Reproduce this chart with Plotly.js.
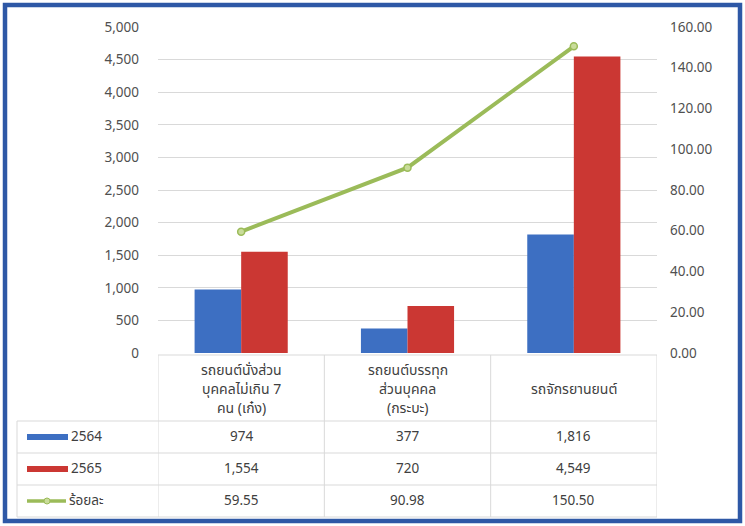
<!DOCTYPE html>
<html>
<head>
<meta charset="utf-8">
<script src="https://cdn.plot.ly/plotly-3.0.1.min.js"></script>
<style>html,body{margin:0;padding:0;background:#fff;}#chart{width:745px;height:526px;}</style>
</head>
<body>
<div id="chart"></div>
<script>
// ---- data ----
var categories = ['รถยนต์นั่งส่วนบุคคลไม่เกิน 7 คน (เก๋ง)', 'รถยนต์บรรทุกส่วนบุคคล (กระบะ)', 'รถจักรยานยนต์'];
var headerLabels = [['รถยนต์นั่งส่วน', 'บุคคลไม่เกิน 7', 'คน (เก๋ง)'], ['รถยนต์บรรทุก', 'ส่วนบุคคล', '(กระบะ)'], ['รถจักรยานยนต์']];
var seriesNames = ['2564', '2565', 'ร้อยละ'];
var values2564 = [974, 377, 1816];
var values2565 = [1554, 720, 4549];
var percentChange = [59.55, 90.98, 150.50];

// ---- layout helpers (pixel -> paper) ----
var W = 745, H = 526, L = 158, R = 88, T = 27, B = 173;
var pw = W - L - R, ph = H - T - B;
function px(x) { return (x - L) / pw; }
function py(y) { return (H - B - y) / ph; }

var FONT = "Tahoma, 'Noto Sans Thai', 'Leelawadee UI', 'DejaVu Sans', sans-serif";
var TXT = '#404040';
var BLUE = '#3D6FC2', RED = '#CB3733', GREEN = '#9BBB59';
var GRID = '#D9D9D9';

var traces = [
  { type: 'bar', name: seriesNames[0], x: categories, y: values2564, marker: { color: BLUE }, yaxis: 'y' },
  { type: 'bar', name: seriesNames[1], x: categories, y: values2565, marker: { color: RED }, yaxis: 'y' },
  { type: 'scatter', mode: 'lines+markers', name: seriesNames[2], x: categories, y: percentChange, yaxis: 'y2',
    line: { color: GREEN, width: 4 }, marker: { size: 7, color: '#C9DC9A', line: { color: GREEN, width: 1.5 } } }
];

var shapes = [];
var annotations = [];

// table rows (pixel y)
var headerTop = 355, headerBottom = 421, rowH = 32;
var rowsY = [headerBottom, headerBottom + rowH, headerBottom + 2 * rowH, headerBottom + 3 * rowH];
var leftX = 17;

function hline(x0, x1, y, xref) {
  shapes.push({ type: 'line', xref: xref || 'paper', yref: 'paper', x0: x0, x1: x1, y0: py(y), y1: py(y), line: { color: GRID, width: 1 } });
}
function vline(x, y0, y1, xref) {
  shapes.push({ type: 'line', xref: xref || 'paper', yref: 'paper', x0: x, x1: x, y0: py(y0), y1: py(y1), line: { color: GRID, width: 1 } });
}
hline(-0.5, 2.5, headerTop, 'x');
rowsY.forEach(function (y) { hline(px(leftX), 1, y); });
[-0.5, 0.5, 1.5, 2.5].forEach(function (b) { vline(b, headerTop, rowsY[3], 'x'); });
vline(px(leftX), headerBottom, rowsY[3]);

// header labels, one annotation per line
var lineGap = 19;
headerLabels.forEach(function (lines, i) {
  var mid = (headerTop + headerBottom) / 2 + 1;
  var start = mid - (lines.length - 1) * lineGap / 2;
  lines.forEach(function (t, k) {
    annotations.push({ xref: 'x', yref: 'paper', x: i, y: py(start + k * lineGap), text: t, showarrow: false,
      xanchor: 'center', yanchor: 'middle', align: 'center', font: { family: FONT, size: 14, color: TXT } });
  });
});

// value rows
var rowData = [values2564, values2565, percentChange];
rowData.forEach(function (arr, r) {
  var yc = rowsY[r] + rowH / 2;
  arr.forEach(function (v, i) {
    var t = r < 2 ? v.toLocaleString('en-US') : v.toFixed(2);
    annotations.push({ xref: 'x', yref: 'paper', x: i, y: py(yc), text: t, showarrow: false,
      xanchor: 'center', yanchor: 'middle', font: { family: FONT, size: 13.5, color: TXT } });
  });
  annotations.push({ xref: 'paper', yref: 'paper', x: px(r < 2 ? 69 : 67), y: py(yc), text: seriesNames[r], showarrow: false,
    xanchor: 'left', yanchor: 'middle', font: { family: FONT, size: 13.5, color: TXT } });
});
// legend swatches
shapes.push({ type: 'rect', xref: 'paper', yref: 'paper', x0: px(27), x1: px(68), y0: py(rowsY[0] + 13), y1: py(rowsY[0] + 19), fillcolor: BLUE, line: { width: 0 } });
shapes.push({ type: 'rect', xref: 'paper', yref: 'paper', x0: px(27), x1: px(68), y0: py(rowsY[1] + 13), y1: py(rowsY[1] + 19), fillcolor: RED, line: { width: 0 } });
shapes.push({ type: 'line', xref: 'paper', yref: 'paper', x0: px(27), x1: px(66), y0: py(rowsY[2] + 16), y1: py(rowsY[2] + 16), line: { color: GREEN, width: 3.5 } });
shapes.push({ type: 'circle', xref: 'paper', yref: 'paper', x0: px(44), x1: px(50), y0: py(rowsY[2] + 13), y1: py(rowsY[2] + 19), fillcolor: '#C9DC9A', line: { color: GREEN, width: 1 } });

// outer frame
shapes.push({ type: 'rect', xref: 'paper', yref: 'paper', x0: px(5), x1: px(740), y0: py(521), y1: py(5), line: { color: '#2E58A6', width: 4.5 }, fillcolor: 'rgba(0,0,0,0)', layer: 'above' });

var layout = {
  width: W, height: H,
  margin: { l: L, r: R, t: T, b: B, pad: 0 },
  paper_bgcolor: '#fff', plot_bgcolor: '#fff',
  showlegend: false,
  barmode: 'group', bargap: 0.44, bargroupgap: 0,
  font: { family: FONT, size: 13, color: TXT },
  xaxis: { type: 'category', showticklabels: false, ticks: '', showgrid: false, zeroline: false, showline: false, range: [-0.5, 2.5] },
  yaxis: { range: [0, 5000], dtick: 500, tickformat: ',d', showgrid: true, gridcolor: GRID, gridwidth: 1, zeroline: false,
    showline: false, ticks: '', ticklabelstandoff: 18, tickfont: { family: FONT, size: 13.5, color: '#505050' } },
  yaxis2: { overlaying: 'y', side: 'right', range: [0, 160], dtick: 20, tickformat: '.2f', showgrid: false, zeroline: false,
    showline: false, ticks: '', ticklabelstandoff: 12, tickfont: { family: FONT, size: 13.5, color: '#505050' } },
  shapes: shapes,
  annotations: annotations
};

Plotly.newPlot('chart', traces, layout, { displayModeBar: false, staticPlot: true });
</script>
</body>
</html>
